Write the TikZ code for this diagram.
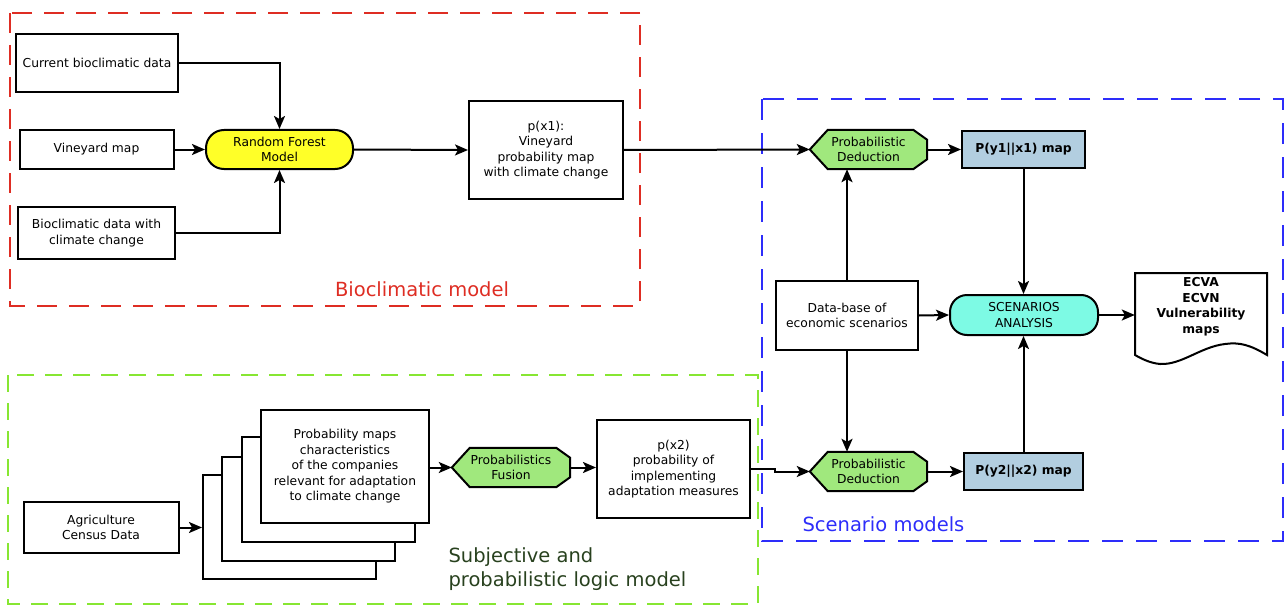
\documentclass[tikz,border=0pt]{standalone}
\usepackage{fontspec}
\setmainfont{DejaVu Sans}
\usetikzlibrary{arrows.meta,backgrounds}
\definecolor{redd}{RGB}{222,45,35}
\definecolor{blued}{RGB}{45,45,250}
\definecolor{greend}{RGB}{135,230,50}
\definecolor{gtext}{RGB}{40,65,30}
\definecolor{yel}{RGB}{255,255,40}
\definecolor{pgreen}{RGB}{160,232,125}
\definecolor{pblue}{RGB}{178,206,224}
\definecolor{cyanf}{RGB}{125,250,228}
\newcommand\pdpath[1]{(#1.west) -- ([xshift=18pt]#1.north west) -- ([xshift=-14pt]#1.north east) -- ([yshift=-10pt]#1.north east) -- ([yshift=10pt]#1.south east) -- ([xshift=-14pt]#1.south east) -- ([xshift=18pt]#1.south west) -- cycle}
\begin{document}
\begin{tikzpicture}[x=1pt,y=-1pt,
  txt/.style={font=\fontsize{12.3}{15.5}\selectfont},
  box/.style={draw, line width=2pt, align=center, inner sep=1pt, fill=white, txt},
  plain/.style={align=center, inner sep=1pt, txt},
  arr/.style={line width=2pt, -{Stealth[length=13pt,width=11pt,inset=3pt]}},
  lab/.style={font=\fontsize{19.5}{24}\selectfont},
  frame/.style={line width=2pt, dash pattern=on 20pt off 12pt},
  pdshape/.style={draw, line width=2pt, fill=pgreen}]
\useasboundingbox (0,0) rectangle (1287,607);

% frames
\draw[frame, redd] (10,13) rectangle (640,306);
\draw[frame, blued, dash pattern=on 21pt off 13pt] (762,99) rectangle (1283,541);
\draw[frame, greend, dash pattern=on 17pt off 11pt] (8,375) rectangle (758,604);

% bioclimatic part
\node[box, minimum width=162, minimum height=58] (cur) at (97,63) {Current bioclimatic data};
\node[box, minimum width=154, minimum height=39] (vin) at (96.5,149.5) {Vineyard map};
\node[box, minimum width=157, minimum height=52] (bio) at (96.5,233) {Bioclimatic data with\\climate change};
\node[box, fill=yel, rounded corners=18pt, minimum width=147, minimum height=39] (rf) at (279.5,149.5) {Random Forest\\Model};
\node[box, minimum width=154, minimum height=98] (px1) at (546,150) {p(x1):\\Vineyard\\probability map\\with climate change};
\node[lab, text=redd] (lbio) at (422,289) {Bioclimatic model};

% scenario part
\node[plain, minimum width=117, minimum height=39] (pd1) at (868.5,149.5) {Probabilistic\\Deduction};
\node[box, fill=pblue, font=\fontsize{12.3}{15.5}\selectfont\bfseries, minimum width=123, minimum height=37] (py1) at (1023.5,149.5) {P(y1||x1) map};
\node[box, minimum width=142, minimum height=69] (db) at (847,315.5) {Data-base of\\economic scenarios};
\node[box, fill=cyanf, rounded corners=17pt, minimum width=148, minimum height=40] (sa) at (1024,315) {SCENARIOS\\ANALYSIS};
\node[plain, font=\fontsize{12.3}{15.5}\selectfont\bfseries, minimum width=132] (ecva) at (1201,306.5) {ECVA\\ECVN\\Vulnerability\\maps};
\node[plain, minimum width=117, minimum height=39] (pd2) at (868.5,471.5) {Probabilistic\\Deduction};
\node[box, fill=pblue, font=\fontsize{12.3}{15.5}\selectfont\bfseries, minimum width=119, minimum height=37] (py2) at (1023.5,471.5) {P(y2||x2) map};
\node[lab, text=blued, anchor=west] (lscen) at (799,524) {Scenario models};

% document shape
\begin{scope}[on background layer]
\draw[line width=2pt, fill=white] (1135,273) -- (1267,273) -- (1267,355)
  .. controls (1250,345) and (1240,342) .. (1225,344)
  .. controls (1200,347) and (1182,365) .. (1160,364)
  .. controls (1150,363) and (1142,359) .. (1135,355) -- cycle;
\draw[pdshape] \pdpath{pd1};
\draw[pdshape] \pdpath{pd2};
\end{scope}

% subjective part
\node[box, minimum width=155, minimum height=51] (agr) at (101,527.5) {Agriculture\\Census Data};
\node[box, minimum width=173, minimum height=104] (st4) at (289.5,527) {};
\node[box, minimum width=173, minimum height=104] (st3) at (308.5,509) {};
\node[box, minimum width=173, minimum height=105] (st2) at (328,489.5) {};
\node[box, minimum width=168, minimum height=113] (st) at (345,466.5) {Probability maps\\characteristics\\of the companies\\relevant for adaptation\\to climate change};
\node[plain, minimum width=118, minimum height=39] (pf) at (511,467.5) {Probabilistics\\Fusion};
\begin{scope}[on background layer]
\draw[pdshape] \pdpath{pf};
\end{scope}
\node[box, minimum width=153, minimum height=98] (px2) at (673.5,469) {p(x2)\\probability of\\implementing\\adaptation measures};
\node[lab, text=gtext, anchor=west, align=left] (lsub) at (445,569) {Subjective and\\probabilistic logic model};

% connectors
\draw[arr] (cur.east) -| (rf.north);
\draw[arr] (bio.east) -| (rf.south);
\draw[arr] (vin.east) -- (rf.west);
\draw[arr] (rf.east) -- (px1.west);
\draw[arr] (px1.east) -- (pd1.west);
\draw[arr] (pd1.east) -- (py1.west);
\draw[arr] (db.north) -- (db.north |- pd1.south);
\draw[arr] (db.south) -- (db.south |- pd2.north);
\draw[arr] (db.east) -- (sa.west);
\draw[arr] (py1.south) -- (py1.south |- sa.north);
\draw[arr] (py2.north) -- (py2.north |- sa.south);
\draw[arr] (sa.east) -- (ecva.west |- sa.east);
\draw[arr] (pd2.east) -- (py2.west);
\draw[arr] (agr.east) -- (agr.east -| st4.west);
\draw[arr] (st.east |- pf.west) -- (pf.west);
\draw[arr] (pf.east) -- (px2.west |- pf.east);
\draw[arr] (px2.east) -- ++(24,0) |- (pd2.west);
\end{tikzpicture}
\end{document}
